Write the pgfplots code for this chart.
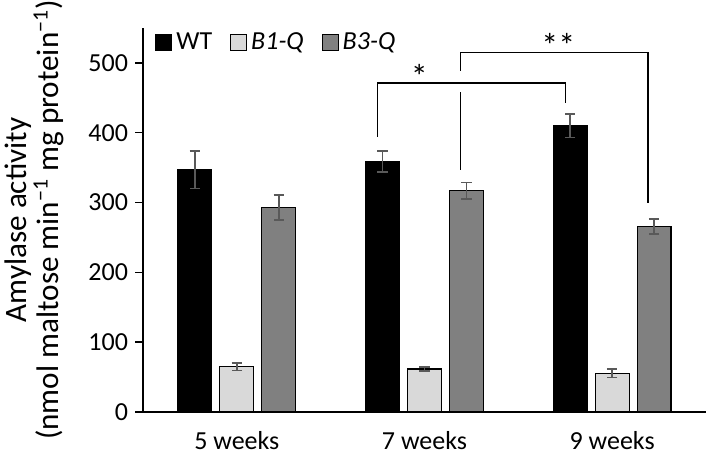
\documentclass[border=0pt]{standalone}
\usepackage{pgfplots}
\pgfplotsset{compat=1.18}
\usepackage{fontspec}
\setmainfont{Carlito}
\definecolor{lgray}{HTML}{D9D9D9}
\definecolor{mgray}{HTML}{808080}
\definecolor{ebar}{HTML}{595959}
\begin{document}
\begin{tikzpicture}
\begin{axis}[
  scale only axis, width=281.5pt, height=192pt,
  xmin=-0.5, xmax=2.5, ymin=0, ymax=550,
  axis x line=bottom, axis y line=left,
  axis line style={line width=0.75pt, -},
  xtick={0,1,2}, xticklabels={5 weeks,7 weeks,9 weeks},
  x tick style={draw=none},
  xticklabel style={font=\fontsize{13}{15}\selectfont, anchor=base, yshift=-14.5pt},
  ytick={0,100,200,300,400,500},
  y tick style={line width=0.75pt, black},
  tick align=outside, major tick length=4pt,
  yticklabel style={font=\fontsize{13}{15}\selectfont},
  /pgf/number format/assume math mode=true,
  ylabel={Amylase activity\\(nmol maltose min\textsuperscript{−1} mg protein\textsuperscript{−1})},
  ylabel style={font=\fontsize{15.6}{12}\selectfont, align=center, inner sep=0pt, at={(axis description cs:-0.246,0.5)}, anchor=north},
  ybar, bar width=0.181,
  error bars/y dir=both, error bars/y explicit,
  error bars/error bar style={color=ebar, line width=0.8pt},
  error bars/error mark options={rotate=90, mark size=2.6pt, color=ebar, line width=0.8pt},
  legend style={draw=none, fill=none, legend columns=-1, at={(axis description cs:0.0213,0.962)}, anchor=west,
    inner sep=0pt, font=\fontsize{13}{15}\selectfont, /tikz/every even column/.append style={column sep=7pt}},
  legend image code/.code={\draw[#1, line width=0.5pt] (0pt,-4pt) rectangle (8pt,4pt);},
  clip=false,
]
\addplot[fill=black, draw=black, line width=0.6pt, bar shift=-0.2234] coordinates {
  (0,347) +- (0,27)
  (1,359) +- (0,15)
  (2,410) +- (0,17)
};
\addlegendentry{WT}
\addplot[fill=lgray, draw=black, line width=0.6pt, bar shift=0] coordinates {
  (0,65) +- (0,5.5)
  (1,61.6) +- (0,3)
  (2,55.5) +- (0,6)
};
\addlegendentry{\textit{B1-Q}}
\addplot[fill=mgray, draw=black, line width=0.6pt, bar shift=0.2234] coordinates {
  (0,293) +- (0,18)
  (1,317) +- (0,11.5)
  (2,265.5) +- (0,10.5)
};
\addlegendentry{\textit{B3-Q}}
% significance brackets
\addplot[sharp plot, black, line width=0.7pt, forget plot, no marks] coordinates {(0.748,394) (0.748,471) (1.75,471) (1.75,443)};
\addplot[sharp plot, black, line width=0.7pt, forget plot, no marks] coordinates {(1.191,347) (1.191,458)};
\addplot[sharp plot, black, line width=0.7pt, forget plot, no marks] coordinates {(1.191,489) (1.191,515) (2.191,515) (2.191,300)};
\node[font=\fontsize{17}{18}\selectfont] at (axis cs:0.973,480) {*};
\node[font=\fontsize{17}{18}\selectfont] at (axis cs:1.713,525) {**};
\end{axis}
\pgfresetboundingbox
\path (current axis.south west) ++(-71.5pt,-21pt) rectangle ([shift={(1.5pt,14pt)}]current axis.north east);
\end{tikzpicture}
\end{document}
